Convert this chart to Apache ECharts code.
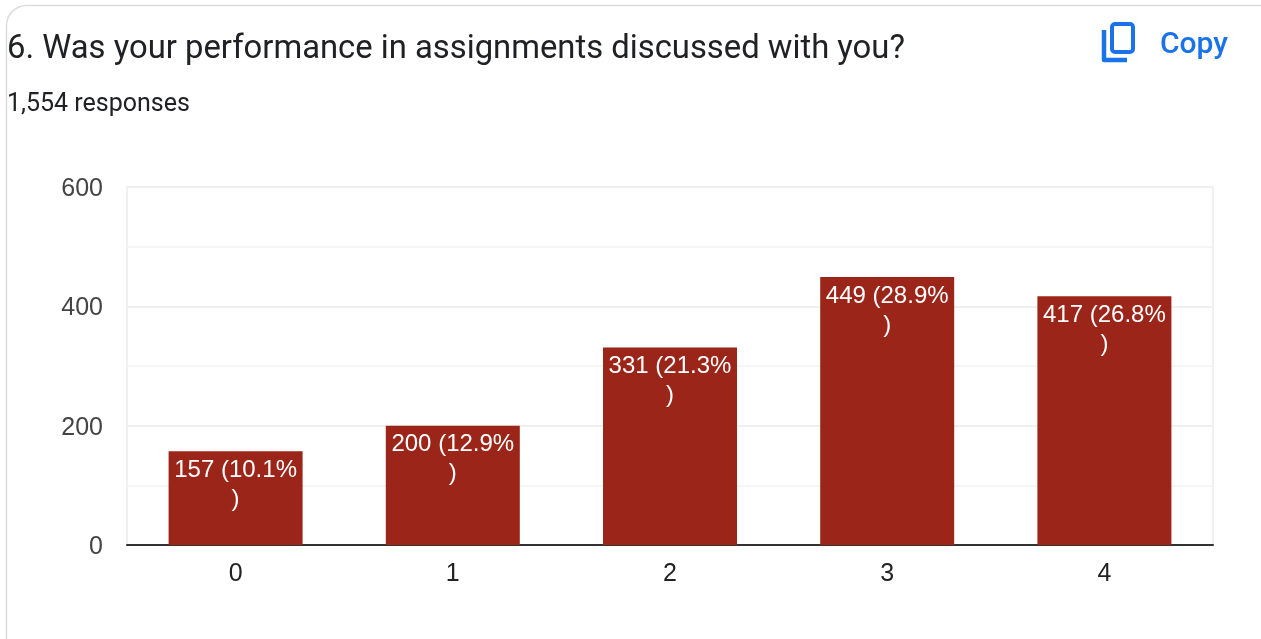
<!DOCTYPE html>
<html><head><meta charset="utf-8">
<style>html,body{margin:0;padding:0;background:#fff}#c{width:1261px;height:639px}</style>
<script src="https://cdn.jsdelivr.net/npm/echarts@6/dist/echarts.min.js"></script>
</head><body><div id="c"></div>
<script>
const titleText = "6. Was your performance in assignments discussed with you?";
const subtitleText = "1,554 responses";
const copyText = "Copy";
const categories = ["0", "1", "2", "3", "4"];
const counts = [157, 200, 331, 449, 417];
const percents = ["10.1", "12.9", "21.3", "28.9", "26.8"];
const yTicks = { min: 0, max: 600, interval: 200 };

const chart = echarts.init(document.getElementById('c'), null, { renderer: 'canvas' });
chart.setOption({
  animation: false,
  backgroundColor: '#fff',
  title: [
    { text: titleText, left: 7, top: 33, textStyle: { fontFamily: 'Roboto', fontSize: 32.8, fontWeight: 400, color: '#202124' }, padding: 0 },
    { text: subtitleText, left: 7, top: 92, textStyle: { fontFamily: 'Roboto', fontSize: 25, fontWeight: 400, color: '#202124' }, padding: 0 }
  ],
  grid: { left: 127, right: 48, top: 187, bottom: 94, show: true, borderColor: '#f0f0f0', borderWidth: 2 },
  xAxis: {
    type: 'category', data: categories,
    axisLine: { show: true, onZero: true, lineStyle: { color: '#333', width: 2 } },
    axisTick: { show: false },
    axisLabel: { fontFamily: 'Liberation Sans', fontSize: 25, color: '#222', margin: 17 }
  },
  yAxis: {
    type: 'value', min: yTicks.min, max: yTicks.max, interval: yTicks.interval,
    axisLine: { show: false }, axisTick: { show: false },
    axisLabel: {
      margin: 24, formatter: '{a|{value}}',
      rich: { a: { fontFamily: 'Liberation Sans', fontSize: 25, color: '#444', padding: [4, 0, 0, 0] } }
    },
    splitLine: { lineStyle: { color: '#f0f0f0', width: 2 } },
    minorTick: { show: false, splitNumber: 2 },
    minorSplitLine: { show: true, lineStyle: { color: '#f5f5f5', width: 2 } }
  },
  series: [{
    type: 'bar', data: counts, barWidth: 134, itemStyle: { color: '#9c251a' },
    label: {
      show: true, position: 'insideTop', distance: 4.5,
      fontFamily: 'Liberation Sans', fontSize: 24, lineHeight: 29, color: '#fff',
      formatter: p => counts[p.dataIndex] + ' (' + percents[p.dataIndex] + '%\n)'
    }
  }],
  graphic: [
    { type: 'rect', z: 100, silent: true,
      shape: { x: 6.5, y: 5.5, width: 1300, height: 700, r: 20 },
      style: { fill: 'none', stroke: '#dadce0', lineWidth: 1.5 } },
    { type: 'rect', z: 100, silent: true,
      shape: { x: 1112, y: 24, width: 21, height: 28, r: 3 },
      style: { fill: 'none', stroke: '#1a73e8', lineWidth: 4 } },
    { type: 'polyline', z: 100, silent: true,
      shape: { points: [[1104, 30], [1104, 60], [1127, 60]] },
      style: { fill: 'none', stroke: '#1a73e8', lineWidth: 4.5, lineJoin: 'round' } },
    { type: 'text', z: 100, silent: true, left: 1160, top: 30,
      style: { text: copyText, fontFamily: 'Roboto', fontSize: 30, fontWeight: 500, fill: '#1a73e8' } }
  ]
});
</script></body></html>
